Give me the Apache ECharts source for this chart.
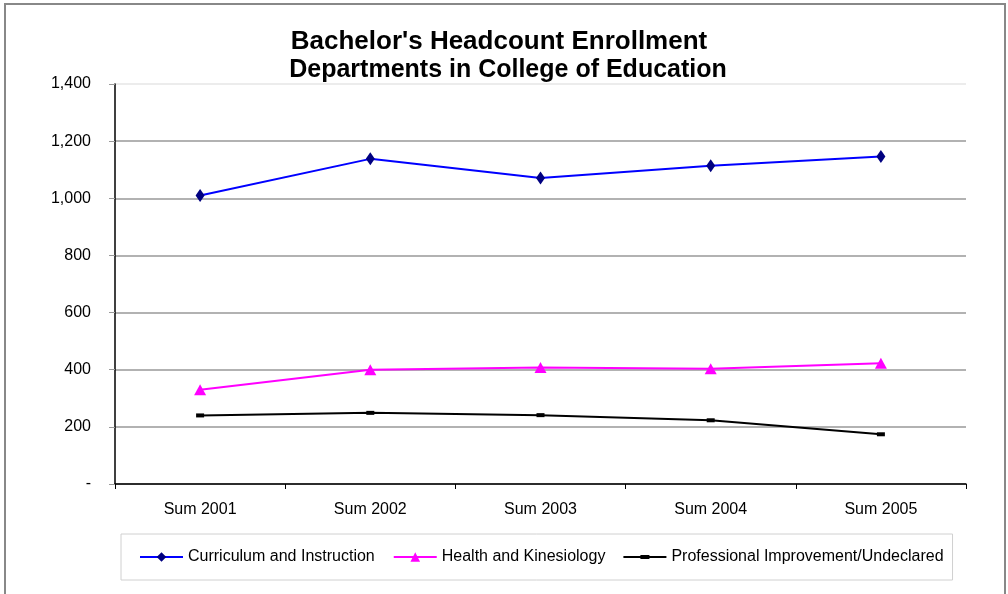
<!DOCTYPE html>
<html>
<head>
<meta charset="utf-8">
<script src="https://cdn.jsdelivr.net/npm/echarts@6/dist/echarts.min.js"></script>
<style>
  html, body { margin: 0; padding: 0; background: #fff; }
  #chart { width: 1008px; height: 594px; }
</style>
</head>
<body>
<div id="chart"></div>
<script>
// 学期
const categories = ['Sum 2001', 'Sum 2002', 'Sum 2003', 'Sum 2004', 'Sum 2005'];

// 各系人数
const curriculum = [1010, 1138, 1071, 1114, 1146];
const health = [330, 400, 408, 403, 423];
const professional = [240, 249, 241, 223, 174];

const yTicks = [0, 200, 400, 600, 800, 1000, 1200, 1400];

const font = 'Arial, "Liberation Sans", sans-serif';

function fmt(v) {
    if (v === 0) return '-';
    return v.toLocaleString('en-US');
}

// 图例里的短横线 + 小方块
const dashIcon = 'path://M0,5 L43,5 L43,7 L0,7 Z M17,4 L26,4 L26,8 L17,8 Z';

const options = {
    animation: false,
    backgroundColor: '#fff',
    textStyle: { fontFamily: font },
    graphic: [
        {
            type: 'rect',
            shape: { x: 5, y: 4, width: 1000, height: 620 },
            style: { fill: 'none', stroke: '#888', lineWidth: 2 },
            silent: true
        },
        {
            type: 'text',
            x: 499,
            y: 29,
            style: {
                text: "Bachelor's Headcount Enrollment",
                font: 'bold 26px ' + font,
                fill: '#000',
                align: 'center',
                verticalAlign: 'top'
            },
            silent: true
        },
        {
            type: 'text',
            x: 508,
            y: 58,
            style: {
                text: 'Departments in College of Education',
                font: 'bold 25px ' + font,
                fill: '#000',
                align: 'center',
                verticalAlign: 'top'
            },
            silent: true
        }
    ],
    legend: {
        left: 121,
        top: 534,
        padding: [15, 9, 15, 18],
        itemGap: 18,
        itemWidth: 43,
        itemHeight: 12,
        borderColor: '#d0d0d0',
        borderWidth: 1,
        textStyle: { fontFamily: font, fontSize: 16, color: '#000' },
        data: [
            'Curriculum and Instruction',
            'Health and Kinesiology',
            { name: 'Professional Improvement/Undeclared', icon: dashIcon }
        ]
    },
    grid: { left: 115, right: 42, top: 84, bottom: 110 },
    xAxis: {
        type: 'category',
        data: categories,
        axisLine: { lineStyle: { color: '#000', width: 1.5 } },
        axisTick: { show: true, length: 5, lineStyle: { color: '#000' } },
        axisLabel: { margin: 18, fontSize: 16, color: '#000', fontFamily: font }
    },
    yAxis: {
        type: 'value',
        min: 0,
        max: 1400,
        interval: 200,
        axisLine: { show: true, lineStyle: { color: '#000', width: 1.5 } },
        axisTick: { show: true, length: 6, lineStyle: { color: '#999' } },
        axisLabel: {
            margin: 24,
            fontSize: 16,
            color: '#000',
            fontFamily: font,
            formatter: fmt
        },
        splitLine: {
            show: true,
            lineStyle: {
                color: ['#999', '#999', '#999', '#999', '#999', '#999', '#999', '#e6e6e6'],
                width: 1.7
            }
        }
    },
    series: [
        {
            name: 'Curriculum and Instruction',
            type: 'line',
            data: curriculum,
            symbol: 'diamond',
            symbolSize: [9, 13],
            itemStyle: { color: '#000080' },
            lineStyle: { color: '#0000ff', width: 2 },
            z: 3
        },
        {
            name: 'Health and Kinesiology',
            type: 'line',
            data: health,
            symbol: 'triangle',
            symbolSize: [12, 11],
            itemStyle: { color: '#ff00ff' },
            lineStyle: { color: '#ff00ff', width: 2 },
            z: 3
        },
        {
            name: 'Professional Improvement/Undeclared',
            type: 'line',
            data: professional,
            symbol: 'rect',
            symbolSize: [8, 4],
            itemStyle: { color: '#000' },
            lineStyle: { color: '#000', width: 2 },
            z: 3
        }
    ]
};

const E = echarts.init(document.getElementById('chart'), null, { renderer: 'canvas' });
E.setOption(options);
window.onresize = function () {
    E.resize();
};
</script>
</body>
</html>
